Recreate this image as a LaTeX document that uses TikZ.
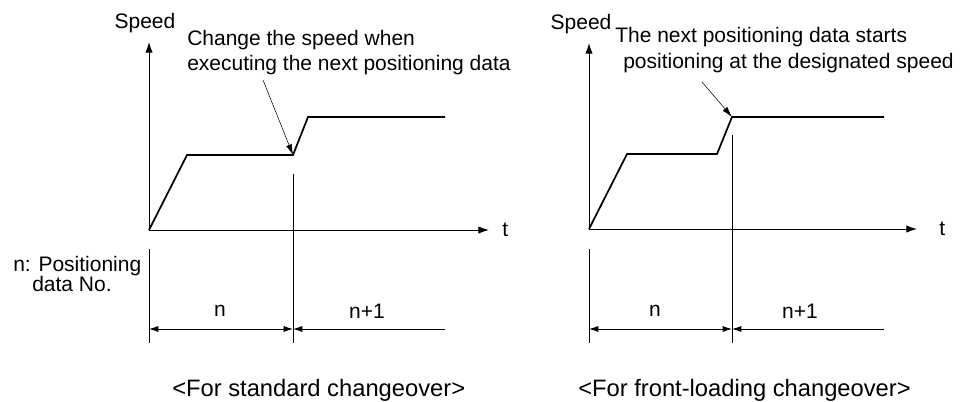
\documentclass[tikz,border=0pt]{standalone}
\usepackage{fontspec}
\setmainfont{Liberation Sans}
\usetikzlibrary{arrows.meta}
\begin{document}
\begin{tikzpicture}[x=0.75pt,y=-0.75pt,
  lbl/.style={inner sep=0pt, font=\fontsize{15.75}{19}\selectfont},
  caplbl/.style={inner sep=0pt, font=\fontsize{17.8}{21}\selectfont},
  axis/.style={line width=0.75pt, -{Latex[length=8pt,width=5.5pt]}},
  curve/.style={line width=1.3pt, line join=miter},
  thinline/.style={line width=0.6pt},
  call/.style={line width=0.4pt, -{Latex[length=8pt,width=4.5pt]}},
  dimboth/.style={line width=0.6pt, {Latex[length=7pt,width=4.5pt]}-{Latex[length=7pt,width=4.5pt]}},
  dimleft/.style={line width=0.6pt, {Latex[length=7pt,width=4.5pt]}-}
]
\useasboundingbox (0,0) rectangle (974,401);

% ---------- left panel ----------
\coordinate (LO) at (149,230);
\coordinate (LYt) at (149,42);
\coordinate (LXt) at (489,230);
\draw[axis] (LO) -- (LYt);
\draw[axis] (LO) -- (LXt);
\node[lbl, anchor=west] (Lt) at (502,230) {t};
\node[lbl] (Lspeed) at (145,23) {Speed};
\coordinate (La) at (187,155);
\coordinate (Lb) at (293,155);
\coordinate (Lc) at (308,117);
\coordinate (Ld) at (445,117);
\draw[curve] (LO) -- (La) -- (Lb) -- (Lc) -- (Ld);
\node[lbl, anchor=west] (Lnote1) at (187,40) {Change the speed when};
\node[lbl, anchor=west] (Lnote2) at (187,65) {executing the next positioning data};
\coordinate (Lcs) at (263,80);
\draw[call] (Lcs) -- (Lb);
\coordinate (Lv1) at (293,174);
\coordinate (Lv2) at (293,343);
\draw[thinline] (Lv1) -- (Lv2);
\coordinate (Lu1) at (149,249);
\coordinate (Lu2) at (149,343);
\draw[thinline] (Lu1) -- (Lu2);
\coordinate (Ldl) at (149,329);
\coordinate (Ldm) at (293,329);
\coordinate (Ldr) at (445,329);
\draw[dimboth] (Ldl) -- (Ldm);
\draw[dimleft] (Ldm) -- (Ldr);
\node[lbl] (Ln) at (220,311) {n};
\node[lbl] (Ln1) at (367,311) {n+1};
\node[lbl, anchor=west] (Lpos1) at (13,266) {n: Positioning};
\node[lbl, anchor=west] (Lpos2) at (32,284) {data No.};
\node[caplbl, anchor=west] (Lcap) at (172,390) {<For standard changeover>};

% ---------- right panel ----------
\coordinate (RO) at (589,229);
\coordinate (RYt) at (589,43);
\coordinate (RXt) at (917,229);
\draw[axis] (RO) -- (RYt);
\draw[axis] (RO) -- (RXt);
\node[lbl, anchor=west] (Rt) at (939,229) {t};
\node[lbl] (Rspeed) at (581,24) {Speed};
\coordinate (Ra) at (627,154);
\coordinate (Rb) at (717,154);
\coordinate (Rc) at (732,117);
\coordinate (Rd) at (884,117);
\draw[curve] (RO) -- (Ra) -- (Rb) -- (Rc) -- (Rd);
\node[lbl, anchor=west] (Rnote1) at (615,37) {The next positioning data starts};
\node[lbl, anchor=west] (Rnote2) at (623,63) {positioning at the designated speed};
\coordinate (Rcs) at (702,82);
\draw[call] (Rcs) -- (Rc);
\coordinate (Rv1) at (732,135);
\coordinate (Rv2) at (732,343);
\draw[thinline] (Rv1) -- (Rv2);
\coordinate (Ru1) at (589,249);
\coordinate (Ru2) at (589,343);
\draw[thinline] (Ru1) -- (Ru2);
\coordinate (Rdl) at (589,329);
\coordinate (Rdm) at (732,329);
\coordinate (Rdr) at (884,329);
\draw[dimboth] (Rdl) -- (Rdm);
\draw[dimleft] (Rdm) -- (Rdr);
\node[lbl] (Rn) at (655,311) {n};
\node[lbl] (Rn1) at (800,311) {n+1};
\node[caplbl, anchor=west] (Rcap) at (578,390) {<For front-loading changeover>};
\end{tikzpicture}
\end{document}
